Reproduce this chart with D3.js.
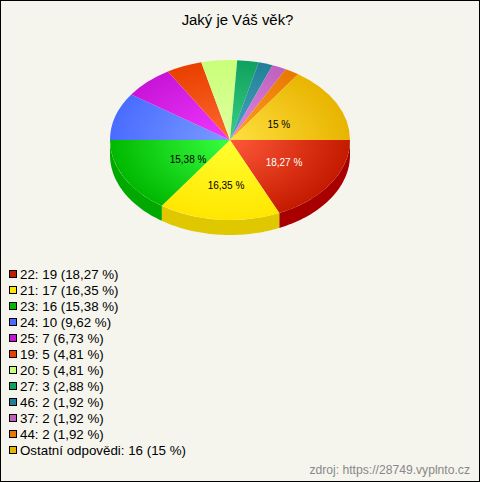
<!DOCTYPE html>
<html><head><meta charset="utf-8">
<script src="https://d3js.org/d3.v7.min.js"></script>
<style>html,body{margin:0;padding:0;background:#f5f5ee}svg{display:block}text{font-family:"Liberation Sans",Arial,sans-serif}</style>
</head><body><script>
const categories=["22","21","23","24","25","19","20","27","46","37","44","Ostatní odpovědi"];
const counts=[19,17,16,10,7,5,5,3,2,2,2,16];
const percentLabels=["18,27 %","16,35 %","15,38 %","9,62 %","6,73 %","4,81 %","4,81 %","2,88 %","1,92 %","1,92 %","1,92 %","15 %"];
const baseColors=["#c41a00","#ffe600","#00b800","#4a6cff","#c814d8","#e84000","#c8ff78","#10a060","#208098","#c060c0","#e87800","#e8b400"];
const lightColors=["#ff5838","#ffff30","#38ff40","#7a9cff","#f038ff","#ff6830","#e0ffa0","#38d080","#48a8c0","#e088e0","#ffa020","#ffe040"];
const sideColors=["#a80000","#e0c800","#00a800","#3050d0","#a000b0","#c03000","#a0d060","#088048","#106078","#9848a0","#c06000","#c09000"];
const titleText="Jaký je Váš věk?";
const sourceText="zdroj: https://28749.vyplnto.cz";
const shownLabels=[0,1,2,11];

const W=480,H=482,cx=230,cy=140,rx=120,ry=80,depth=15;
const svg=d3.select("body").append("svg").attr("width",W).attr("height",H);
svg.append("rect").attr("x",.5).attr("y",.5).attr("width",W-1).attr("height",H-1).attr("fill","#f5f5ee").attr("stroke","#000");
svg.append("text").attr("x",237.5).attr("y",25).attr("text-anchor","middle").attr("font-size",14.9).attr("fill","#000").text(titleText);

const pie=d3.pie().sort(null).value(d=>d).startAngle(Math.PI/2).endAngle(Math.PI/2+2*Math.PI);
const arcs=pie(counts);
const sx=d3.scaleLinear().domain([-1,1]).range([cx-rx,cx+rx]);
const sy=d3.scaleLinear().domain([-1,1]).range([cy-ry,cy+ry]);
const px=a=>sx(Math.sin(a));      // d3 angle: 0 at 12 o'clock, clockwise
const py=a=>sy(-Math.cos(a));

const defs=svg.append("defs");
arcs.forEach((d,i)=>{
  const g=defs.append("radialGradient").attr("id","g"+i).attr("gradientUnits","userSpaceOnUse")
    .attr("cx",0).attr("cy",0).attr("r",rx);
  g.append("stop").attr("offset","0%").attr("stop-color",lightColors[i]);
  g.append("stop").attr("offset","100%").attr("stop-color",baseColors[i]);
});

// side wall: only the front half (d3 angles PI/2..3PI/2)
const sides=svg.append("g");
arcs.forEach((d,i)=>{
  const a0=Math.max(d.startAngle,Math.PI/2),a1=Math.min(d.endAngle,1.5*Math.PI);
  if(a1<=a0)return;
  const angs=d3.range(0,41).map(k=>a0+(a1-a0)*k/40);
  const top=angs.map(a=>[px(a),py(a)]);
  const bot=angs.slice().reverse().map(a=>[px(a),py(a)+depth]);
  sides.append("path").attr("d",d3.line()(top.concat(bot))+"Z").attr("fill",sideColors[i]);
});

const arc=d3.arc().innerRadius(0).outerRadius(rx);
const topG=svg.append("g").attr("transform",`translate(${cx},${cy}) scale(1,${ry/rx})`);
topG.selectAll("path").data(arcs).join("path").attr("d",arc).attr("fill",(d,i)=>`url(#g${i})`);

const labelFrac={0:[.536,.506],1:[.37,.565],2:[.395,.51],11:[.46,.43]};
shownLabels.forEach(i=>{
  const d=arcs[i],m=(d.startAngle+d.endAngle)/2,f=labelFrac[i];
  svg.append("text").attr("x",cx+Math.sin(m)*rx*f[0]).attr("y",cy-Math.cos(m)*ry*f[1]+4)
    .attr("text-anchor","middle").attr("font-size",10)
    .attr("fill",i===0?"#fff":"#000").text(percentLabels[i]);
});

const ly=d3.scaleLinear().domain([0,categories.length-1]).range([274,450]);
const leg=svg.append("g");
categories.forEach((c,i)=>{
  leg.append("rect").attr("x",9.5).attr("y",Math.round(ly(i))-3.5).attr("width",7).attr("height",7)
    .attr("fill",baseColors[i]).attr("stroke","#000");
  leg.append("text").attr("x",20).attr("y",ly(i)+5).attr("font-size",13.33).attr("fill","#000")
    .text(`${c}: ${counts[i]} (${percentLabels[i]})`);
});
svg.append("text").attr("x",470).attr("y",474).attr("text-anchor","end").attr("font-size",12.15).attr("fill","#888").text(sourceText);
</script></body></html>
